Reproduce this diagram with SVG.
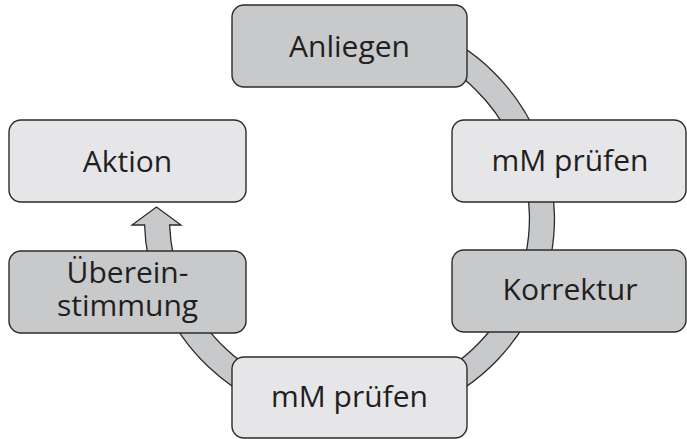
<svg xmlns="http://www.w3.org/2000/svg" width="687" height="439" viewBox="0 0 687 439">
<style>
.box{stroke:#2b2b2b;stroke-width:1.4}
.dark{fill:#c8c9cb}
.light{fill:#e6e6e8}
.band{fill:#c8c9cb;stroke:#2b2b2b;stroke-width:1.3;stroke-linejoin:miter}
text{font-family:"Open Sans","Noto Sans",sans-serif;font-size:30px;fill:#1f1f1f;text-anchor:middle}
</style>
<rect width="687" height="439" fill="#ffffff"/>
<g id="connectors">
<path class="band" d="M349.5 13 A205 205 0 1 1 144.6 225 L132 225 L156.5 207 L181 225 L169.6 225 A180 180 0 1 0 349.5 38 Z"/>
</g>
<g id="anliegen"><rect class="box dark" x="232" y="5" width="235" height="82" rx="12"/><text x="349.5" y="57">Anliegen</text></g>
<g id="aktion"><rect class="box light" x="9" y="120" width="237" height="82" rx="12"/><text x="127.5" y="172">Aktion</text></g>
<g id="uebereinstimmung"><rect class="box dark" x="9" y="251" width="237" height="82" rx="12"/><text x="127.5" y="283"><tspan x="127.5" y="283">Überein-</tspan><tspan x="127.5" y="316">stimmung</tspan></text></g>
<g id="mm-pruefen-1"><rect class="box light" x="452" y="120" width="234" height="82" rx="12"/><text x="570" y="171">mM prüfen</text></g>
<g id="korrektur"><rect class="box dark" x="452" y="250" width="234" height="82" rx="12"/><text x="570" y="300">Korrektur</text></g>
<g id="mm-pruefen-2"><rect class="box light" x="232" y="357" width="235" height="81" rx="12"/><text x="349.5" y="407">mM prüfen</text></g>
</svg>
